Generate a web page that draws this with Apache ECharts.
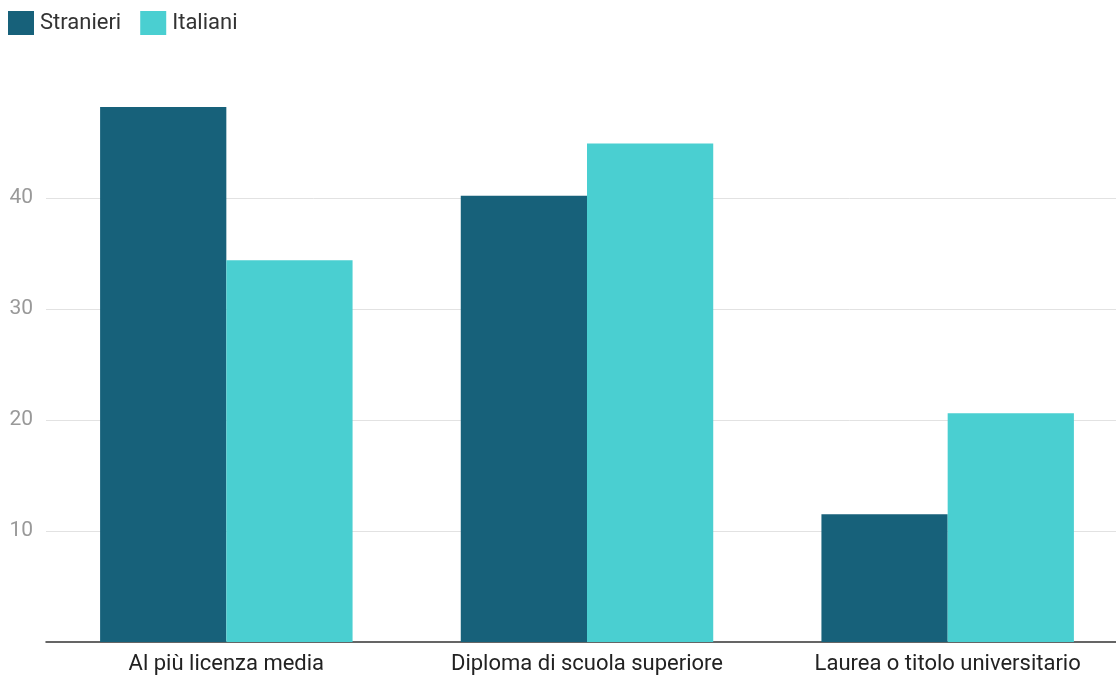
<!DOCTYPE html>
<html>
<head>
<meta charset="utf-8">
<script src="https://cdn.jsdelivr.net/npm/echarts@6/dist/echarts.min.js"></script>
<style>
html,body{margin:0;padding:0;background:#fff;}
#chart{width:1116px;height:677px;}
</style>
</head>
<body>
<div id="chart"></div>
<script>
const categories = ["Al più licenza media", "Diploma di scuola superiore", "Laurea o titolo universitario"];
const stranieri = [48.2, 40.2, 11.5];
const italiani = [34.4, 44.9, 20.6];
const seriesNames = ["Stranieri", "Italiani"];

const chart = echarts.init(document.getElementById('chart'));
chart.setOption({
  animation: false,
  textStyle: { fontFamily: 'Roboto' },
  legend: {
    left: 8, top: 11, padding: 0,
    itemWidth: 26, itemHeight: 24, itemGap: 19,
    icon: 'rect',
    textStyle: { fontSize: 22, color: '#333', fontFamily: 'Roboto', padding: [0, 0, 0, 1] },
    data: seriesNames
  },
  grid: { left: 46, width: 1082, top: 87, bottom: 35, containLabel: false, outerBoundsMode: 'none' },
  xAxis: {
    type: 'category',
    data: categories,
    axisLine: { show: true, lineStyle: { color: '#333', width: 1.5 } },
    axisTick: { show: false },
    axisLabel: { fontSize: 22, color: '#222', margin: 11, fontFamily: 'Roboto' }
  },
  yAxis: {
    type: 'value', min: 0, max: 50, interval: 10,
    axisLine: { show: false },
    axisTick: { show: false },
    axisLabel: { fontSize: 21, color: '#999', margin: 13, showMinLabel: false, showMaxLabel: false, fontFamily: 'Roboto' },
    splitLine: { show: true, showMinLine: false, showMaxLine: false, lineStyle: { color: '#e2e2e2', width: 1 } }
  },
  series: [
    { name: seriesNames[0], type: 'bar', data: stranieri, barGap: '0%', barCategoryGap: '30%', itemStyle: { color: '#17617a' } },
    { name: seriesNames[1], type: 'bar', data: italiani, barGap: '0%', barCategoryGap: '30%', itemStyle: { color: '#4acfd1' } }
  ]
});
</script>
</body>
</html>
